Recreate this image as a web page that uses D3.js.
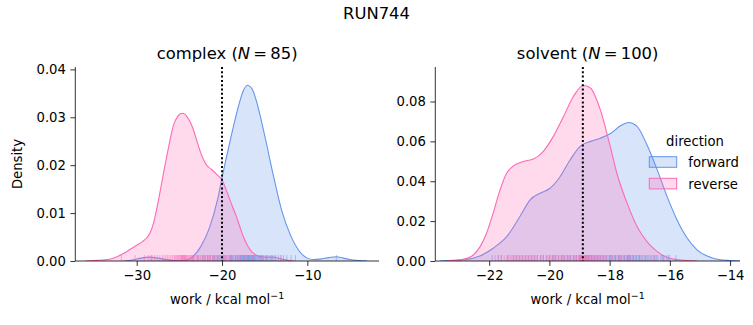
<!DOCTYPE html>
<html>
<head>
<meta charset="utf-8">
<script src="https://cdnjs.cloudflare.com/ajax/libs/d3/7.8.5/d3.min.js"></script>
<style>
    body { margin: 0; background: #fff; }
    text { font-family: "DejaVu Sans", sans-serif; fill: #000; }
</style>
</head>
<body>
<div id="chart"></div>
<script>

/*
 *  DATA
 */

var figTitle = "RUN744";
var directions = ["forward", "reverse"];
var colors = ["#6495ED", "#FF69B4"];

// complex: kde curves as [work, density]
var complexForward = [[-31.5, 0], [-30.5, 0.0002], [-29.5, 0.0006], [-28.5, 0.0008], [-27.5, 0.0006],
    [-26.5, 0.0003], [-25.5, 0.0001], [-24.5, 0.0001], [-23.5, 0.0008], [-22.5, 0.003],
    [-21.5, 0.0068], [-20.5, 0.013], [-20, 0.0174], [-19, 0.0255], [-18, 0.0328], [-17.5, 0.0356],
    [-17, 0.0367], [-16.5, 0.036], [-16, 0.0336], [-15, 0.0262], [-14, 0.018], [-13, 0.0105],
    [-12, 0.0055], [-11, 0.0022], [-10, 0.0006], [-9.3, 0.0003], [-8.5, 0.0004], [-7.5, 0.0007],
    [-6.6, 0.0009], [-5.8, 0.0006], [-5, 0.0003], [-4, 0.0001], [-3, 0]];

var complexReverse = [[-36, 0], [-35, 0.0001], [-34, 0.0002], [-33.1, 0.0004], [-32.3, 0.0009],
    [-31.6, 0.0015], [-30.8, 0.0024], [-30, 0.0033], [-29.3, 0.0041], [-28.8, 0.0049], [-28.4, 0.006],
    [-28.05, 0.0078], [-27.7, 0.0105], [-27.3, 0.0141], [-26.9, 0.018], [-26.5, 0.0217], [-26.1, 0.0252],
    [-25.7, 0.0283], [-25.2, 0.0302], [-24.8, 0.0308], [-24.5, 0.0308], [-24.1, 0.0301], [-23.7, 0.0289],
    [-23.4, 0.0276], [-23, 0.0254], [-22.6, 0.0231], [-22.2, 0.0213], [-21.8, 0.02], [-21.3, 0.0192],
    [-20.8, 0.0184], [-20.4, 0.0177], [-20, 0.0169], [-19.5, 0.0148], [-19.06, 0.0127], [-18.7, 0.011],
    [-18.3, 0.0092], [-17.9, 0.0071], [-17.5, 0.0051], [-17, 0.0032], [-16.5, 0.0019], [-16, 0.0012],
    [-15.5, 0.0009], [-14.8, 0.0008], [-14, 0.0008], [-13.2, 0.0005], [-12.4, 0.0002], [-11.6, 0]];

// solvent: kde curves as [work, density]
var solventForward = [[-23.64, 0], [-22.76, 0.0008], [-22.31, 0.0025], [-21.87, 0.0064], [-21.42, 0.0122],
    [-20.98, 0.0223], [-20.64, 0.0307], [-20.31, 0.034], [-19.98, 0.0365], [-19.64, 0.0424],
    [-19.31, 0.0508], [-18.98, 0.0575], [-18.64, 0.06], [-18.31, 0.0616], [-17.98, 0.0638],
    [-17.64, 0.0678], [-17.37, 0.0695], [-17.09, 0.0675], [-16.76, 0.0583], [-16.42, 0.0457],
    [-16.09, 0.0323], [-15.76, 0.0206], [-15.42, 0.0114], [-15.09, 0.0055], [-14.64, 0.0018],
    [-14.09, 0.0003], [-13.64, 0]];

var solventReverse = [[-23.4, 0], [-22.87, 0.0008], [-22.53, 0.003], [-22.3, 0.0072], [-22.09, 0.0139],
    [-21.87, 0.024], [-21.64, 0.0357], [-21.42, 0.044], [-21.2, 0.0477], [-20.87, 0.0499],
    [-20.53, 0.0511], [-20.2, 0.055], [-19.87, 0.0625], [-19.53, 0.0725], [-19.2, 0.0826],
    [-18.87, 0.088], [-18.64, 0.0868], [-18.31, 0.0759], [-17.98, 0.0575], [-17.76, 0.044],
    [-17.42, 0.029], [-17.09, 0.0173], [-16.76, 0.0097], [-16.42, 0.0047], [-16.09, 0.0018],
    [-15.64, 0.0005], [-15.09, 0]];

// rug samples
var complexForwardRug = [-28.3, -6.6, -23.4, -22.8, -22.3, -22.0, -21.7, -21.4, -21.1, -20.9, -20.6, -20.4,
    -20.2, -20.0, -19.8, -19.6, -19.5, -19.3, -19.1, -19.0, -18.8, -18.7, -18.5, -18.4, -18.2, -18.1,
    -18.0, -17.9, -17.8, -17.7, -17.6, -17.5, -17.4, -17.3, -17.2, -17.1, -17.0, -16.9, -16.8, -16.7,
    -16.6, -16.5, -16.4, -16.3, -16.2, -16.1, -16.0, -15.9, -15.8, -15.7, -15.5, -15.4, -15.2, -15.1,
    -14.9, -14.7, -14.5, -14.3, -14.1, -13.9, -13.7, -13.4, -13.1, -12.8, -12.4, -11.9, -11.4,
    -18.35, -17.85, -17.65, -17.25, -17.05, -16.95, -16.75, -16.55, -16.35, -16.15, -18.9, -19.9,
    -15.6, -15.3, -17.45, -16.85, -14.8, -20.5];

var complexReverseRug = [-31.8, -30.2, -29.1, -28.6, -28.2, -27.9, -27.6, -27.3, -27.0, -26.8, -26.6,
    -26.4, -26.2, -26.0, -25.8, -25.6, -25.5, -25.3, -25.2, -25.0, -24.9, -24.8, -24.7, -24.6, -24.5,
    -24.4, -24.3, -24.2, -24.1, -24.0, -23.9, -23.8, -23.6, -23.5, -23.3, -23.2, -23.0, -22.8, -22.6,
    -22.5, -22.3, -22.2, -22.0, -21.9, -21.7, -21.6, -21.4, -21.3, -21.1, -21.0, -20.8, -20.7, -20.5,
    -20.3, -20.1, -19.9, -19.7, -19.5, -19.2, -19.0, -18.7, -18.4, -18.1, -17.8, -17.4, -17.0, -16.4,
    -15.3, -14.2, -13.1, -24.55, -24.65, -24.35, -24.25, -24.75, -25.1, -25.4, -23.7, -23.4, -22.9,
    -22.1, -21.5, -20.9, -19.8, -18.9];

var solventForwardRug = [-21.9, -21.6, -21.4, -21.2, -21.0, -20.9, -20.7, -20.6, -20.4, -20.3, -20.2,
    -20.0, -19.9, -19.8, -19.7, -19.6, -19.5, -19.4, -19.3, -19.2, -19.1, -19.0, -18.95, -18.9, -18.8,
    -18.7, -18.65, -18.6, -18.5, -18.45, -18.4, -18.3, -18.25, -18.2, -18.1, -18.05, -18.0, -17.95,
    -17.9, -17.85, -17.8, -17.75, -17.7, -17.65, -17.6, -17.55, -17.5, -17.45, -17.4, -17.35, -17.3,
    -17.25, -17.2, -17.15, -17.1, -17.05, -17.0, -16.95, -16.9, -16.8, -16.7, -16.6, -16.5, -16.4,
    -16.3, -16.2, -16.1, -16.0, -15.8, -21.7, -21.1, -20.8, -20.5, -20.1, -19.85, -19.55, -19.35,
    -19.15, -18.85, -18.75, -18.55, -18.35, -18.15, -17.98, -17.82, -17.68, -17.52, -17.42, -17.38,
    -17.32, -17.22, -17.12, -17.02, -16.85, -16.75, -16.65, -16.55, -16.45, -16.25, -16.05];

var solventReverseRug = [-21.8, -21.7, -21.6, -21.5, -21.4, -21.3, -21.25, -21.2, -21.1, -21.05, -21.0,
    -20.95, -20.9, -20.8, -20.75, -20.7, -20.6, -20.5, -20.4, -20.3, -20.2, -20.1, -20.0, -19.9, -19.85,
    -19.8, -19.7, -19.65, -19.6, -19.55, -19.5, -19.45, -19.4, -19.35, -19.3, -19.25, -19.2, -19.15,
    -19.1, -19.05, -19.0, -18.97, -18.94, -18.9, -18.87, -18.84, -18.8, -18.77, -18.74, -18.7, -18.66,
    -18.62, -18.58, -18.54, -18.5, -18.45, -18.4, -18.35, -18.3, -18.25, -18.2, -18.1, -18.0, -17.9,
    -17.8, -17.7, -17.6, -17.5, -17.4, -17.3, -17.2, -17.0, -16.8, -16.5, -16.2, -21.35, -21.15,
    -20.85, -20.65, -20.55, -20.45, -20.25, -20.05, -19.95, -19.75, -19.02, -18.98, -18.92, -18.88,
    -18.82, -18.78, -18.72, -18.68, -18.6, -18.48, -18.38, -18.15, -17.95, -17.65, -17.35];

// dotted reference line
var complexLine = -20.0;
var solventLine = -18.89;

// ticks
var complexTicksX = [-30, -20, -10];
var complexTicksY = [0, 0.01, 0.02, 0.03, 0.04];
var solventTicksX = [-22, -20, -18, -16, -14];
var solventTicksY = [0, 0.02, 0.04, 0.06, 0.08];


/*
 *  DRAWING
 */

var W = 753, H = 325;

var svg = d3.select('#chart')
    .append('svg')
    .attr('width', W)
    .attr('height', H);

svg.append('text')
    .attr('x', W / 2)
    .attr('y', 19)
    .attr('text-anchor', 'middle')
    .style('font-size', '16.4px')
    .text(figTitle);

var fmtTick = function(v) {
    return d3.format('.0f')(v).replace('-', '\u2212');
};

function panel(opts) {
    var g = svg.append('g')
        .attr('transform', 'translate(' + opts.left + ',' + opts.top + ')');
    var w = opts.width, h = opts.height;

    var x = d3.scaleLinear().domain(opts.xdomain).range([0, w]);
    var y = d3.scaleLinear().domain(opts.ydomain).range([h, 0]);

    var area = d3.area()
        .curve(d3.curveMonotoneX)
        .x(function(d) { return x(d[0]); })
        .y0(y(0))
        .y1(function(d) { return y(d[1]); });
    var line = d3.line()
        .curve(d3.curveMonotoneX)
        .x(function(d) { return x(d[0]); })
        .y(function(d) { return y(d[1]); });

    var clip = g.append('clipPath').attr('id', 'clip-' + opts.id)
        .append('rect').attr('width', w).attr('height', h);
    var plot = g.append('g').attr('clip-path', 'url(#clip-' + opts.id + ')');

    opts.curves.forEach(function(c, i) {
        plot.append('path')
            .datum(c)
            .attr('d', area)
            .attr('fill', colors[i])
            .attr('fill-opacity', 0.25);
        plot.append('path')
            .datum(c)
            .attr('d', line)
            .attr('fill', 'none')
            .attr('stroke', colors[i])
            .attr('stroke-width', 1.1);
    });

    opts.rugs.forEach(function(r, i) {
        plot.selectAll('.rug' + i)
            .data(r)
            .enter()
            .append('line')
            .attr('x1', function(d) { return x(d); })
            .attr('x2', function(d) { return x(d); })
            .attr('y1', h)
            .attr('y2', h - 6)
            .attr('stroke', colors[i])
            .attr('stroke-opacity', 0.5)
            .attr('stroke-width', 1);
    });

    plot.append('line')
        .attr('x1', x(opts.vline)).attr('x2', x(opts.vline))
        .attr('y1', 0).attr('y2', h)
        .attr('stroke', '#000')
        .attr('stroke-width', 2)
        .attr('stroke-dasharray', '2,2.3');

    // axes
    var xa = g.append('g')
        .attr('transform', 'translate(0,' + h + ')')
        .call(d3.axisBottom(x).tickValues(opts.xticks).tickSize(4.9).tickPadding(4.5).tickFormat(fmtTick));
    var ya = g.append('g')
        .call(d3.axisLeft(y).tickValues(opts.yticks).tickSize(4.9).tickPadding(4.5).tickFormat(d3.format('.2f')));
    [xa, ya].forEach(function(a) {
        a.select('.domain').attr('stroke', '#000').attr('stroke-width', 0.8)
            .attr('d', a === xa ? 'M0,0H' + w : 'M0,0V' + h);
        a.selectAll('.tick line').attr('stroke', '#000').attr('stroke-width', 0.8);
        a.selectAll('.tick text').style('font-size', '13.2px').style('font-family', '"DejaVu Sans", sans-serif');
    });

    // title
    var t = g.append('text')
        .attr('x', w / 2)
        .attr('y', -8)
        .attr('text-anchor', 'middle')
        .style('font-size', '16.4px');
    t.append('tspan').text(opts.title + ' (');
    t.append('tspan').style('font-style', 'italic').text('N');
    t.append('tspan').text('\u2009=\u2009' + opts.n + ')');

    // x label
    var xl = g.append('text')
        .attr('x', w / 2)
        .attr('y', h + 43)
        .attr('text-anchor', 'middle')
        .style('font-size', '13.2px');
    xl.append('tspan').text('work / kcal mol');
    xl.append('tspan').attr('dy', -5).style('font-size', '9.5px').text('\u22121');

    if (opts.ylabel) {
        g.append('text')
            .attr('transform', 'translate(' + (-53) + ',' + h / 2 + ')rotate(-90)')
            .attr('text-anchor', 'middle')
            .style('font-size', '13.2px')
            .text(opts.ylabel);
    }
    return g;
}

panel({
    id: 'complex', left: 75.3, top: 67, width: 303.7, height: 194,
    xdomain: [-37.2, -1.6], ydomain: [0, 0.0405],
    curves: [complexForward, complexReverse],
    rugs: [complexForwardRug, complexReverseRug],
    vline: complexLine,
    xticks: complexTicksX, yticks: complexTicksY,
    title: 'complex', n: 85, ylabel: 'Density'
});

var right = panel({
    id: 'solvent', left: 435.3, top: 67, width: 304.7, height: 194,
    xdomain: [-23.79, -13.67], ydomain: [0, 0.0973],
    curves: [solventForward, solventReverse],
    rugs: [solventForwardRug, solventReverseRug],
    vline: solventLine,
    xticks: solventTicksX, yticks: solventTicksY,
    title: 'solvent', n: 100
});

// legend
var legend = svg.append('g').attr('transform', 'translate(649.3,0)');
legend.append('text')
    .attr('x', 45.7)
    .attr('y', 146)
    .attr('text-anchor', 'middle')
    .style('font-size', '13.2px')
    .text('direction');
directions.forEach(function(d, i) {
    var yy = 156.7 + i * 21.6;
    legend.append('rect')
        .attr('x', 0).attr('y', yy)
        .attr('width', 27.4).attr('height', 10.6)
        .attr('fill', colors[i]).attr('fill-opacity', 0.25)
        .attr('stroke', colors[i]).attr('stroke-width', 1);
    legend.append('text')
        .attr('x', 39)
        .attr('y', yy + 10.4)
        .style('font-size', '13.2px')
        .text(d);
});

</script>
</body>
</html>
